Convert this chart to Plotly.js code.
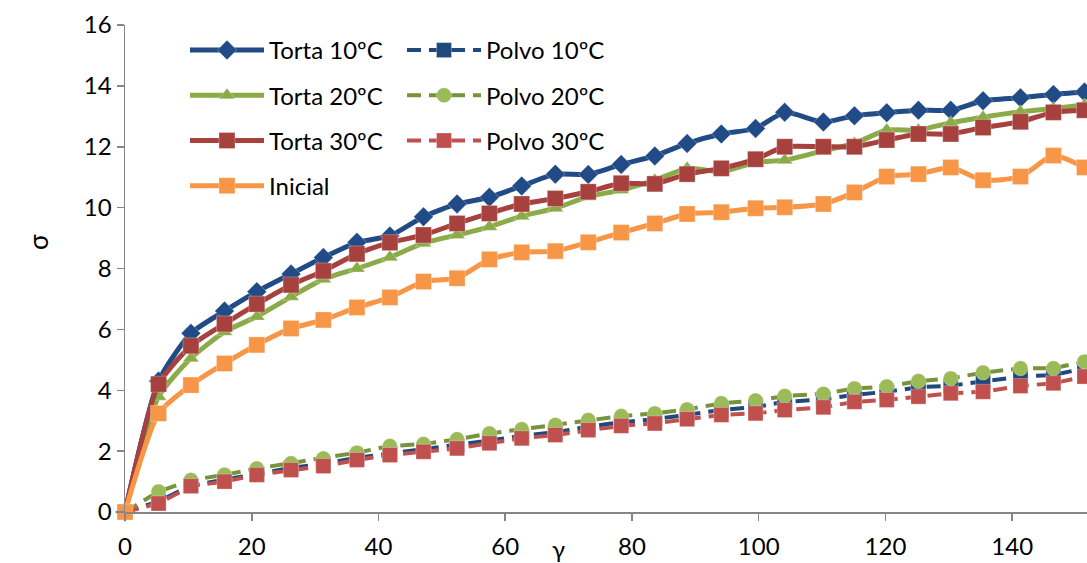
<!DOCTYPE html>
<html>
<head>
<meta charset="utf-8">
<script src="https://cdn.plot.ly/plotly-3.0.1.min.js"></script>
<style>html,body{margin:0;padding:0;background:#fff;}#chart{width:1087px;height:563px;}</style>
</head>
<body>
<div id="chart"></div>
<script>
// strain values (γ)
var gamma = [0, 5.3, 10.4, 15.7, 20.8, 26.2, 31.3, 36.6, 41.8, 47.1, 52.4, 57.5, 62.6, 67.9, 73.1, 78.3, 83.6, 88.7, 94.1, 99.5, 104.1, 110.2, 115.1, 120.2, 125.2, 130.3, 135.4, 141.3, 146.5, 151.4];

var torta10 = [0, 4.3, 5.87, 6.6, 7.24, 7.82, 8.36, 8.86, 9.07, 9.7, 10.12, 10.34, 10.71, 11.1, 11.09, 11.42, 11.7, 12.11, 12.42, 12.6, 13.13, 12.81, 13.02, 13.12, 13.2, 13.2, 13.51, 13.61, 13.72, 13.8];
var torta20 = [0, 3.79, 5.05, 5.92, 6.42, 7.07, 7.65, 8.0, 8.37, 8.83, 9.1, 9.37, 9.72, 9.98, 10.36, 10.58, 10.9, 11.29, 11.18, 11.49, 11.56, 11.87, 12.11, 12.55, 12.55, 12.79, 12.97, 13.15, 13.26, 13.37];
var torta30 = [0, 4.2, 5.46, 6.18, 6.83, 7.46, 7.92, 8.48, 8.85, 9.1, 9.48, 9.81, 10.12, 10.3, 10.52, 10.8, 10.78, 11.1, 11.29, 11.59, 12.0, 12.0, 12.0, 12.22, 12.42, 12.42, 12.63, 12.82, 13.13, 13.2];
var inicial = [0, 3.24, 4.17, 4.88, 5.49, 6.03, 6.31, 6.72, 7.05, 7.57, 7.68, 8.3, 8.53, 8.57, 8.86, 9.18, 9.48, 9.79, 9.85, 9.98, 10.01, 10.12, 10.5, 11.02, 11.1, 11.32, 10.9, 11.02, 11.71, 11.32];
var polvo10 = [0, 0.35, 0.87, 1.05, 1.25, 1.45, 1.58, 1.78, 1.92, 2.05, 2.18, 2.35, 2.5, 2.62, 2.8, 2.95, 3.05, 3.18, 3.35, 3.45, 3.62, 3.7, 3.85, 3.95, 4.1, 4.15, 4.28, 4.45, 4.5, 4.72];
var polvo20 = [0, 0.67, 1.05, 1.22, 1.43, 1.6, 1.76, 1.95, 2.17, 2.23, 2.39, 2.58, 2.72, 2.86, 3.02, 3.15, 3.24, 3.37, 3.57, 3.66, 3.81, 3.88, 4.06, 4.12, 4.3, 4.39, 4.58, 4.72, 4.72, 4.94];
var polvo30 = [0, 0.28, 0.85, 1.0, 1.22, 1.38, 1.51, 1.71, 1.87, 1.98, 2.09, 2.26, 2.42, 2.53, 2.69, 2.83, 2.91, 3.05, 3.19, 3.24, 3.35, 3.44, 3.62, 3.68, 3.79, 3.9, 3.95, 4.14, 4.23, 4.45];

var yTicks = [0, 2, 4, 6, 8, 10, 12, 14, 16];
var xTicks = [0, 20, 40, 60, 80, 100, 120, 140];

var FONT = 'Lato, "Open Sans", sans-serif';

function torta(name, y, color, symbol, size, legend) {
  return {x: gamma, y: y, name: name, type: 'scatter', mode: 'lines+markers',
    legend: legend, legendgroup: name, cliponaxis: false,
    line: {color: color, width: 5, shape: 'spline', smoothing: 0.6},
    marker: {symbol: symbol, size: size, color: color, line: {width: 0.8, color: 'rgba(255,255,255,0.35)'}}};
}
function polvo(name, y, lineColor, markColor, symbol, size, legend) {
  return {x: gamma, y: y, name: name, type: 'scatter', mode: 'lines+markers',
    legend: legend, legendgroup: name, cliponaxis: false,
    line: {color: lineColor, width: 4, dash: '14px,8px'},
    marker: {symbol: symbol, size: size, color: markColor, line: {width: 0.8, color: 'rgba(255,255,255,0.35)'}}};
}

var traces = [
  torta('Torta 10ºC', torta10, '#214B86', 'diamond', 15, 'legend'),
  polvo('Polvo 10ºC', polvo10, '#1F497D', '#1F497D', 'square', 15, 'legend2'),
  torta('Torta 20ºC', torta20, '#8AAB48', 'triangle-up', 14, 'legend'),
  polvo('Polvo 20ºC', polvo20, '#77933C', '#9BBB59', 'circle', 15, 'legend2'),
  torta('Torta 30ºC', torta30, '#A6413E', 'square', 16, 'legend'),
  polvo('Polvo 30ºC', polvo30, '#C0504D', '#C0504D', 'square', 15, 'legend2'),
  torta('Inicial', inicial, '#F79646', 'square', 16, 'legend')
];

var PW = 962, PH = 487;
var legendBase = {
  xref: 'paper', yref: 'paper', xanchor: 'left', yanchor: 'top',
  bgcolor: 'rgba(0,0,0,0)', borderwidth: 0, orientation: 'v',
  itemwidth: 74, tracegroupgap: 11, traceorder: 'grouped',
  font: {family: FONT, size: 24, color: '#000'}, itemclick: false, itemdoubleclick: false
};

var layout = {
  width: 1087, height: 563,
  margin: {l: 125, r: 0, t: 25, b: 51, autoexpand: false},
  paper_bgcolor: '#fff', plot_bgcolor: '#fff',
  font: {family: FONT, size: 24, color: '#000'},
  showlegend: true,
  legend: Object.assign({}, legendBase, {x: (185 - 125) / PW, y: (512 - 28) / PH}),
  legend2: Object.assign({}, legendBase, {x: (402 - 125) / PW, y: (512 - 28) / PH}),
  xaxis: {range: [0, 151.8], tickvals: xTicks, ticktext: xTicks.map(String), showgrid: false, zeroline: false,
    showline: true, linecolor: '#868686', linewidth: 1.5, ticks: 'outside', ticklen: 7, tickcolor: '#868686', tickwidth: 1.5,
    ticklabelstandoff: 6,
    tickfont: {family: FONT, size: 24, color: '#000'}, fixedrange: true},
  yaxis: {range: [0, 16], tickvals: yTicks, ticktext: yTicks.map(String), showgrid: false, zeroline: false,
    showline: true, linecolor: '#868686', linewidth: 1.5, ticks: 'outside', ticklen: 7, tickcolor: '#868686', tickwidth: 1.5,
    tickfont: {family: FONT, size: 24, color: '#000'}, fixedrange: true},
  annotations: [
    {text: 'γ', xref: 'paper', yref: 'paper', x: (558 - 125) / PW, y: -(548 - 512) / PH, showarrow: false,
      xanchor: 'center', yanchor: 'middle', font: {family: FONT, size: 24, color: '#000'}},
    {text: 'σ', xref: 'paper', yref: 'paper', x: -(125 - 38) / PW, y: (512 - 242) / PH, showarrow: false, textangle: -90,
      xanchor: 'center', yanchor: 'middle', font: {family: FONT, size: 26, color: '#000'}}
  ]
};

Plotly.newPlot('chart', traces, layout, {displayModeBar: false, staticPlot: true});
</script>
</body>
</html>
